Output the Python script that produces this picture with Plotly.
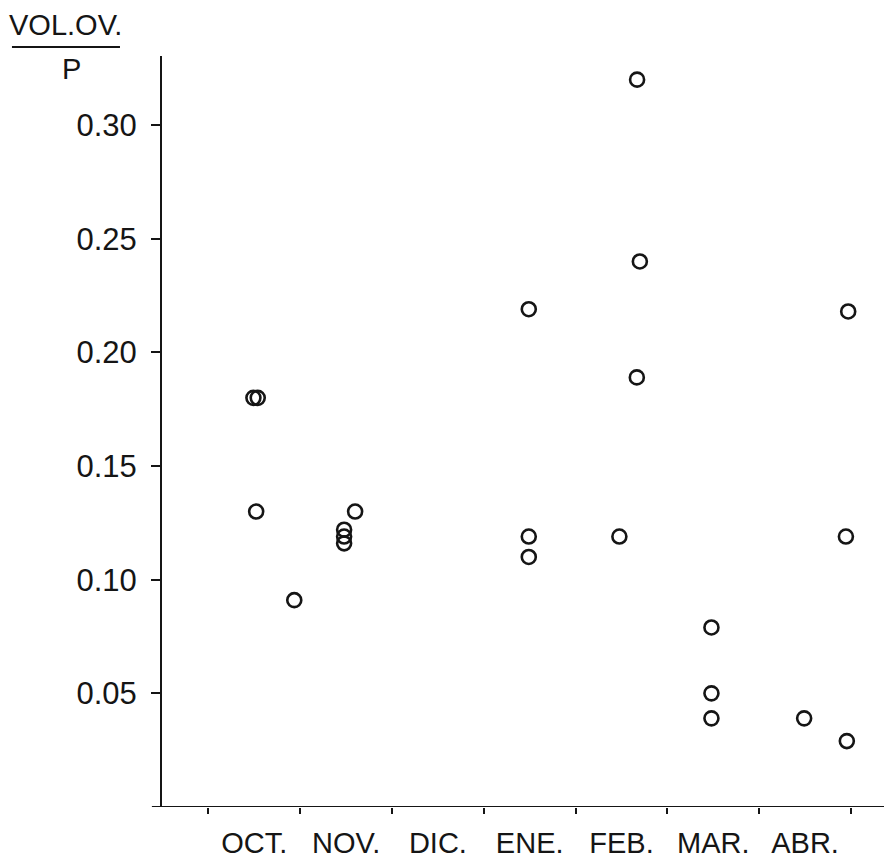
import plotly.graph_objects as go

# Month positions (0 = start of October, 1 = start of November, ...)
months = ["OCT.", "NOV.", "DIC.", "ENE.", "FEB.", "MAR.", "ABR."]
month_centers = [0.5, 1.5, 2.5, 3.5, 4.5, 5.5, 6.5]
month_bounds = [0, 1, 2, 3, 4, 5, 6, 7]

# Sample time (fractional month index) and VOL.OV./P values
x_vals = [0.49, 0.537, 0.52, 0.935,
          1.598, 1.478, 1.478, 1.478,
          3.49, 3.49, 3.49,
          4.67, 4.70, 4.667, 4.477,
          5.48, 5.48, 5.48,
          6.49, 6.97, 6.945, 6.955]
y_vals = [0.180, 0.180, 0.130, 0.091,
          0.130, 0.122, 0.119, 0.116,
          0.219, 0.119, 0.110,
          0.320, 0.240, 0.189, 0.119,
          0.079, 0.050, 0.039,
          0.039, 0.218, 0.119, 0.029]

y_ticks = [0.05, 0.10, 0.15, 0.20, 0.25, 0.30]
y_ticktext = ["0.05", "0.10", "0.15", "0.20", "0.25", "0.30"]

INK = "#151515"
FONT = "Liberation Sans"

fig = go.Figure()
fig.add_trace(go.Scatter(
    x=x_vals, y=y_vals, mode="markers",
    marker=dict(symbol="circle-open", size=14, color=INK,
                line=dict(width=2.6, color=INK)),
    showlegend=False, hoverinfo="skip"))

fig.update_layout(
    width=884, height=861,
    margin=dict(l=162, r=0, t=56, b=54),
    paper_bgcolor="white", plot_bgcolor="white",
    font=dict(family=FONT, size=29, color=INK),
    xaxis=dict(
        range=[-0.506, 7.36],
        tickvals=month_centers, ticktext=months,
        ticks="", showgrid=False, zeroline=False, showline=False,
        ticklabelstandoff=16,
        tickfont=dict(size=29, color=INK),
        minor=dict(tickvals=month_bounds, ticks="outside", ticklen=6,
                   tickwidth=2, tickcolor=INK, showgrid=False),
    ),
    yaxis=dict(
        range=[0, 0.3304],
        tickvals=y_ticks, ticktext=y_ticktext,
        ticks="outside", ticklen=9, tickwidth=2, tickcolor=INK,
        showgrid=False, zeroline=False,
        showline=True, linewidth=2, linecolor=INK,
        ticklabelstandoff=8,
        tickfont=dict(size=31, color=INK),
    ),
    shapes=[
        # x axis baseline (extends slightly left of the y axis)
        dict(type="line", xref="paper", yref="y", x0=-0.014, x1=1, y0=0, y1=0,
             line=dict(color=INK, width=2)),
        # fraction bar of the y-axis title
        dict(type="line", xref="paper", yref="paper", x0=-0.2078, x1=-0.0582,
             y0=1.012, y1=1.012, line=dict(color=INK, width=2)),
    ],
    annotations=[
        dict(text="VOL.OV.", xref="paper", yref="paper", x=-0.133, y=1.041,
             xanchor="center", yanchor="middle", showarrow=False,
             font=dict(size=29, color=INK, family=FONT)),
        dict(text="P", xref="paper", yref="paper", x=-0.125, y=0.9827,
             xanchor="center", yanchor="middle", showarrow=False,
             font=dict(size=29, color=INK, family=FONT)),
    ],
)

fig.write_html("out.html")
